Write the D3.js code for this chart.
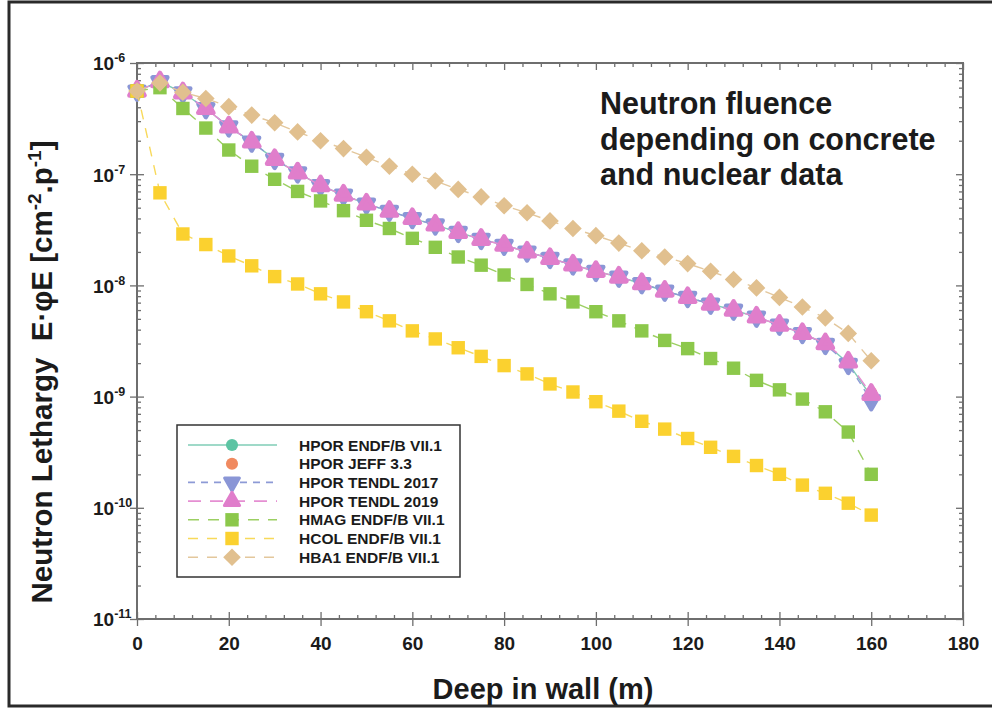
<!DOCTYPE html>
<html>
<head>
<meta charset="utf-8">
<script src="https://cdn.jsdelivr.net/npm/d3@7"></script>
<style>
  body { margin: 0; background: #fff; }
  svg { display: block; font-family: "Liberation Sans", Arial, Helvetica, sans-serif; }
</style>
</head>
<body>
<svg id="chart" width="992" height="711"></svg>
<script>
// Depth positions in the wall (m)
const depth = [0, 5, 10, 15, 20, 25, 30, 35, 40, 45, 50, 55, 60, 65, 70, 75, 80,
               85, 90, 95, 100, 105, 110, 115, 120, 125, 130, 135, 140, 145, 150, 155, 160];

// Neutron lethargy flux E·φE per concrete / nuclear data library
const hporEndf = [5.6e-7, 6.8e-7, 5.4e-7, 3.9e-7, 2.67e-7, 1.95e-7, 1.36e-7, 1.03e-7, 7.9e-8, 6.5e-8, 5.4e-8,
                  4.65e-8, 4.0e-8, 3.5e-8, 3.0e-8, 2.6e-8, 2.3e-8, 2.0e-8, 1.75e-8, 1.53e-8, 1.34e-8,
                  1.19e-8, 1.04e-8, 8.9e-9, 7.8e-9, 6.8e-9, 6.0e-9, 5.2e-9, 4.4e-9, 3.7e-9, 3.0e-9, 2.0e-9, 1.0e-9];
const hporJeff = [5.6e-7, 6.8e-7, 5.4e-7, 3.9e-7, 2.67e-7, 1.95e-7, 1.36e-7, 1.03e-7, 7.9e-8, 6.5e-8, 5.4e-8,
                  4.65e-8, 4.0e-8, 3.5e-8, 3.0e-8, 2.6e-8, 2.3e-8, 2.0e-8, 1.75e-8, 1.53e-8, 1.34e-8,
                  1.19e-8, 1.04e-8, 8.9e-9, 7.8e-9, 6.8e-9, 6.0e-9, 5.2e-9, 4.4e-9, 3.7e-9, 3.0e-9, 2.05e-9, 1.08e-9];
const hporTendl2017 = [5.6e-7, 6.8e-7, 5.4e-7, 3.9e-7, 2.67e-7, 1.95e-7, 1.36e-7, 1.03e-7, 7.9e-8, 6.5e-8, 5.4e-8,
                  4.65e-8, 4.0e-8, 3.5e-8, 3.0e-8, 2.6e-8, 2.3e-8, 2.0e-8, 1.75e-8, 1.53e-8, 1.34e-8,
                  1.19e-8, 1.04e-8, 8.9e-9, 7.8e-9, 6.8e-9, 6.0e-9, 5.2e-9, 4.4e-9, 3.7e-9, 2.95e-9, 1.95e-9, 0.92e-9];
const hporTendl2019 = [5.6e-7, 6.8e-7, 5.4e-7, 3.9e-7, 2.67e-7, 1.95e-7, 1.36e-7, 1.03e-7, 7.9e-8, 6.5e-8, 5.4e-8,
                  4.65e-8, 4.0e-8, 3.5e-8, 3.0e-8, 2.6e-8, 2.3e-8, 2.0e-8, 1.75e-8, 1.53e-8, 1.34e-8,
                  1.19e-8, 1.04e-8, 8.9e-9, 7.8e-9, 6.8e-9, 6.0e-9, 5.2e-9, 4.4e-9, 3.7e-9, 3.0e-9, 2.05e-9, 1.05e-9];
const hmag = [5.6e-7, 6.0e-7, 3.9e-7, 2.6e-7, 1.65e-7, 1.18e-7, 9.0e-8, 7.0e-8, 5.75e-8, 4.7e-8, 3.85e-8,
              3.25e-8, 2.65e-8, 2.2e-8, 1.8e-8, 1.52e-8, 1.24e-8, 1.02e-8, 8.4e-9, 7.1e-9, 5.8e-9,
              4.8e-9, 3.9e-9, 3.2e-9, 2.7e-9, 2.2e-9, 1.8e-9, 1.4e-9, 1.15e-9, 9.5e-10, 7.3e-10, 4.8e-10, 2.0e-10];
const hcol = [5.6e-7, 6.8e-8, 2.9e-8, 2.33e-8, 1.84e-8, 1.5e-8, 1.2e-8, 1.03e-8, 8.4e-9, 7.1e-9, 5.8e-9,
              4.8e-9, 3.9e-9, 3.3e-9, 2.75e-9, 2.3e-9, 1.9e-9, 1.6e-9, 1.3e-9, 1.1e-9, 9.0e-10,
              7.4e-10, 6.0e-10, 5.1e-10, 4.2e-10, 3.5e-10, 2.9e-10, 2.4e-10, 2.0e-10, 1.6e-10, 1.35e-10, 1.1e-10, 8.6e-11];
const hba1 = [5.6e-7, 6.6e-7, 5.45e-7, 4.8e-7, 4.05e-7, 3.4e-7, 2.9e-7, 2.4e-7, 2.0e-7, 1.7e-7, 1.42e-7,
              1.18e-7, 1.0e-7, 8.7e-8, 7.3e-8, 6.25e-8, 5.2e-8, 4.5e-8, 3.8e-8, 3.25e-8, 2.8e-8,
              2.4e-8, 2.05e-8, 1.8e-8, 1.57e-8, 1.34e-8, 1.13e-8, 9.5e-9, 7.8e-9, 6.4e-9, 5.1e-9, 3.7e-9, 2.1e-9];

const seriesNames = ["HPOR ENDF/B VII.1", "HPOR JEFF 3.3", "HPOR TENDL 2017", "HPOR TENDL 2019",
                     "HMAG ENDF/B VII.1", "HCOL ENDF/B VII.1", "HBA1 ENDF/B VII.1"];

// Axis ticks
const xTicks = [0, 20, 40, 60, 80, 100, 120, 140, 160, 180];
const yTickExponents = [-11, -10, -9, -8, -7, -6];

const titleLines = ["Neutron fluence", "depending on concrete", "and nuclear data"];
const xTitle = "Deep in wall (m)";

// ---- styles for each series ----
const styles = [
  { color: "#5cc4a3", line: "#7fcdb6", dash: null,    symbol: "circle" },
  { color: "#f08a60", line: null,      dash: null,    symbol: "circle" },
  { color: "#8a96d6", line: "#8d9ad6", dash: "7,6",   symbol: "triDown" },
  { color: "#e07ecb", line: "#e58fd2", dash: "13,9",  symbol: "triUp" },
  { color: "#8cc84b", line: "#9ccf62", dash: "11,9",  symbol: "square" },
  { color: "#fbd12f", line: "#f8d95a", dash: "10,9",  symbol: "square" },
  { color: "#e1c08f", line: "#e3c79c", dash: "10,9",  symbol: "diamond" }
];
const seriesValues = [hporEndf, hporJeff, hporTendl2017, hporTendl2019, hmag, hcol, hba1];
const series = seriesNames.map((name, i) => ({
  name, values: seriesValues[i], ...styles[i]
}));

const svg = d3.select("#chart");
const plotLeft = 137, plotRight = 963, plotTop = 63, plotBottom = 619;

const x = d3.scaleLinear().domain([0, 180]).range([plotLeft, plotRight]);
const y = d3.scaleLog().domain([1e-11, 1e-6]).range([plotBottom, plotTop]);

// Outer picture frame
svg.append("path")
  .attr("d", "M992,2 H9 V706 H992")
  .attr("fill", "none").attr("stroke", "#2a2a2a").attr("stroke-width", 3);

const axisColor = "#6e6e6e";
const ink = "#1b1b1b";

// ---- minor ticks ----
const xMinor = d3.range(0, 181, 4).filter(v => v % 20 !== 0);
const yMinor = [];
yTickExponents.slice(0, -1).forEach(e => {
  for (let m = 2; m <= 9; m++) yMinor.push(m * Math.pow(10, e));
});
const yMajor = yTickExponents.map(e => Math.pow(10, e));

function styleAxis(g) {
  g.select(".domain").remove();
  g.selectAll(".tick line").attr("stroke", axisColor).attr("stroke-width", 1.3);
}

// inward minor ticks on all four sides
svg.append("g").attr("transform", `translate(0,${plotBottom})`)
  .call(d3.axisBottom(x).tickValues(xMinor).tickSize(-4).tickFormat(""))
  .call(styleAxis);
svg.append("g").attr("transform", `translate(0,${plotTop})`)
  .call(d3.axisTop(x).tickValues(xMinor).tickSize(-4).tickFormat(""))
  .call(styleAxis);
svg.append("g").attr("transform", `translate(${plotLeft},0)`)
  .call(d3.axisLeft(y).tickValues(yMinor).tickSize(-4).tickFormat(""))
  .call(styleAxis);
svg.append("g").attr("transform", `translate(${plotRight},0)`)
  .call(d3.axisRight(y).tickValues(yMinor).tickSize(-4).tickFormat(""))
  .call(styleAxis);

// inward major ticks on all four sides
svg.append("g").attr("transform", `translate(0,${plotBottom})`)
  .call(d3.axisBottom(x).tickValues(xTicks).tickSize(-7).tickFormat(""))
  .call(styleAxis);
svg.append("g").attr("transform", `translate(0,${plotTop})`)
  .call(d3.axisTop(x).tickValues(xTicks).tickSize(-7).tickFormat(""))
  .call(styleAxis);
svg.append("g").attr("transform", `translate(${plotLeft},0)`)
  .call(d3.axisLeft(y).tickValues(yMajor).tickSize(-7).tickFormat(""))
  .call(styleAxis);
svg.append("g").attr("transform", `translate(${plotRight},0)`)
  .call(d3.axisRight(y).tickValues(yMajor).tickSize(-7).tickFormat(""))
  .call(styleAxis);

// outward major ticks with labels
const xAxis = svg.append("g").attr("transform", `translate(0,${plotBottom})`)
  .call(d3.axisBottom(x).tickValues(xTicks).tickSize(7).tickPadding(11).tickFormat(d3.format("d")))
  .call(styleAxis);
xAxis.selectAll(".tick text")
  .attr("fill", ink).attr("font-size", 19).attr("font-weight", "bold")
  .attr("font-family", "'Liberation Sans', Arial, sans-serif");

const yAxis = svg.append("g").attr("transform", `translate(${plotLeft},0)`)
  .call(d3.axisLeft(y).tickValues(yMajor).tickSize(7).tickFormat(""))
  .call(styleAxis);
yAxis.selectAll(".tick").each(function(d, i) {
  const t = d3.select(this).select("text")
    .attr("x", 93 - plotLeft).attr("dy", "0.36em")
    .attr("text-anchor", "start")
    .attr("fill", ink).attr("font-weight", "bold")
    .attr("font-family", "'Liberation Sans', Arial, sans-serif")
    .attr("font-size", 19);
  t.text(null);
  t.append("tspan").text("10");
  t.append("tspan").attr("dy", -8).attr("font-size", 12.5).text(String(yTickExponents[i]));
});

// plot frame
svg.append("rect")
  .attr("x", plotLeft).attr("y", plotTop)
  .attr("width", plotRight - plotLeft).attr("height", plotBottom - plotTop)
  .attr("fill", "none").attr("stroke", axisColor).attr("stroke-width", 2);

// ---- marker shapes ----
const symbolPath = {
  circle:  d3.symbol(d3.symbolCircle, 115)(),
  triUp:   d3.symbol(d3.symbolTriangle, 100)(),
  triDown: d3.symbol(d3.symbolTriangle, 95)(),
  square:  d3.symbol(d3.symbolSquare, 180)(),
  diamond: d3.symbol(d3.symbolSquare, 155)()
};
const symbolRotate = { circle: 0, triUp: 0, triDown: 180, square: 0, diamond: 45 };
// triangles get a thick round-joined outline in their own colour
const isTri = s => s.symbol === "triUp" || s.symbol === "triDown";

const line = d3.line().x(d => x(d[0])).y(d => y(d[1]));

const plot = svg.append("g");
series.forEach(s => {
  const pts = depth.map((dv, i) => [dv, s.values[i]]);
  const g = plot.append("g");
  if (s.line) {
    g.append("path")
      .attr("d", line(pts))
      .attr("fill", "none")
      .attr("stroke", s.line)
      .attr("stroke-width", 1.4)
      .attr("stroke-dasharray", s.dash);
  }
  g.selectAll("path.mk").data(pts).join("path")
    .attr("class", "mk")
    .attr("d", symbolPath[s.symbol])
    .attr("transform", d => `translate(${x(d[0])},${y(d[1])}) rotate(${symbolRotate[s.symbol]})`)
    .attr("fill", s.color)
    .attr("stroke", isTri(s) ? s.color : "none")
    .attr("stroke-width", isTri(s) ? 4.5 : 0)
    .attr("stroke-linejoin", "round");
});

// ---- legend ----
const lg = svg.append("g");
lg.append("rect")
  .attr("x", 177).attr("y", 425).attr("width", 283).attr("height", 152)
  .attr("fill", "#fff").attr("stroke", "#333").attr("stroke-width", 1.5);
series.forEach((s, i) => {
  const ly = 445 + i * 18.7;
  if (s.line) {
    lg.append("line")
      .attr("x1", 188).attr("x2", 277).attr("y1", ly).attr("y2", ly)
      .attr("stroke", s.line).attr("stroke-width", 1.6)
      .attr("stroke-dasharray", s.dash);
  }
  lg.append("path")
    .attr("d", symbolPath[s.symbol])
    .attr("transform", `translate(232,${ly}) rotate(${symbolRotate[s.symbol]})`)
    .attr("fill", s.color)
    .attr("stroke", isTri(s) ? s.color : "none")
    .attr("stroke-width", isTri(s) ? 3 : 0)
    .attr("stroke-linejoin", "round");
  lg.append("text")
    .attr("x", 299).attr("y", ly).attr("dy", "0.36em")
    .attr("font-size", 15.5).attr("font-weight", "bold").attr("fill", ink)
    .text(s.name);
});

// ---- titles ----
const tt = svg.append("text")
  .attr("font-size", 30.5).attr("font-weight", "bold").attr("fill", ink);
titleLines.forEach((t, i) => {
  tt.append("tspan").attr("x", 600).attr("y", 114 + i * 35.5).text(t);
});

svg.append("text")
  .attr("x", 543).attr("y", 699)
  .attr("text-anchor", "middle")
  .attr("font-size", 29).attr("font-weight", "bold").attr("fill", ink)
  .text(xTitle);

const yt = svg.append("text")
  .attr("transform", "translate(52,372) rotate(-90)")
  .attr("text-anchor", "middle")
  .attr("font-size", 29.5).attr("font-weight", "bold").attr("fill", ink);
yt.append("tspan").text("Neutron Lethargy\u00A0\u00A0E\u00B7\u03C6E [cm");
yt.append("tspan").attr("dy", -11).attr("font-size", 19).text("-2");
yt.append("tspan").attr("dy", 11).text(".p");
yt.append("tspan").attr("dy", -11).attr("font-size", 19).text("-1");
yt.append("tspan").attr("dy", 11).text("]");
</script>
</body>
</html>
